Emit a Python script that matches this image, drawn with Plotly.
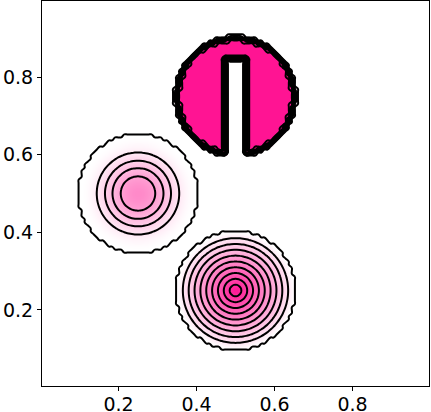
import numpy as np
import plotly.graph_objects as go

# Solid body rotation test shapes
n_cells = 128
shape_names = ["slotted cylinder", "cone", "hump"]
center_x = [0.5, 0.5, 0.25]
center_y = [0.75, 0.25, 0.5]
radius = [0.15, 0.15, 0.15]
peak = [1.0, 1.0, 0.5]
slot_x = [0.475, 0.525]
slot_top = 0.85
edge_width = 0.009  # smeared edge of the cylinder
levels = [0.0, 0.1, 0.2, 0.3, 0.4, 0.5, 0.6, 0.7, 0.8, 0.9, 1.0]
tick_vals = [0.2, 0.4, 0.6, 0.8]

# cell centred grid
xc = (np.arange(n_cells) + 0.5) / n_cells
yc = (np.arange(n_cells) + 0.5) / n_cells
X, Y = np.meshgrid(xc, yc)
q = np.zeros_like(X)

# slotted cylinder: signed distance to (disk minus slot), then a narrow ramp
d_disk = radius[0] - np.hypot(X - center_x[0], Y - center_y[0])
d_slot = np.minimum.reduce([X - slot_x[0], slot_x[1] - X, slot_top - Y])
dist = np.minimum(d_disk, -d_slot)
q = np.maximum(q, peak[0] * np.clip(dist / edge_width + 0.5, 0, 1))

# cone
r = np.hypot(X - center_x[1], Y - center_y[1]) / radius[1]
q[r <= 1] = peak[1] * (1 - r[r <= 1])

# smooth hump
r = np.hypot(X - center_x[2], Y - center_y[2]) / radius[2]
q[r <= 1] = peak[2] * 0.5 * (1 + np.cos(np.pi * r[r <= 1]))

fig = go.Figure(go.Contour(
    x=xc, y=yc, z=q,
    zmin=0, zmax=1,
    colorscale=[[0, "white"], [1, "#FF1493"]],
    showscale=False,
    contours=dict(coloring="heatmap", start=levels[0], end=levels[-1],
                  size=levels[1] - levels[0]),
    line=dict(color="black", width=2, smoothing=1.3),
    hoverinfo="skip",
))

axis_style = dict(
    showgrid=False, zeroline=False, automargin=False,
    showline=True, mirror=True, linecolor="black", linewidth=1,
    ticks="outside", ticklen=4, tickwidth=1, tickcolor="black",
    tickvals=tick_vals, ticktext=[f"{t:.1f}" for t in tick_vals],
    tickfont=dict(family="DejaVu Sans", size=19, color="black"),
)
fig.update_xaxes(range=[xc[0], xc[-1]], ticklabelstandoff=-3, **axis_style)
fig.update_yaxes(range=[yc[0], yc[-1]], **axis_style)

fig.update_layout(
    width=431, height=412,
    margin=dict(l=42, r=2, t=1, b=26),
    plot_bgcolor="white", paper_bgcolor="white",
    showlegend=False,
)
# drop the default page margin so the figure sits at the window corner
fig.write_html("out.html", config={"displayModeBar": False},
               post_script="document.body.style.margin='0';")
